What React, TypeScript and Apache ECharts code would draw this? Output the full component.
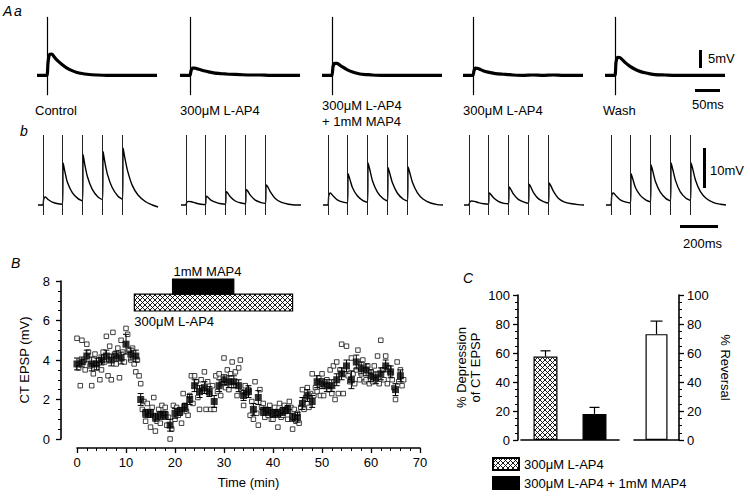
import React, { useEffect, useRef } from 'react';
import * as echarts from 'echarts';

const FONT = '"Liberation Sans", Arial, Helvetica, sans-serif';

// ---------- Panel A a : single EPSPs (time ms, mV) ----------
const tA = [0, 5, 10, 15, 20, 22, 25, 30, 35, 40, 50, 60, 70, 80, 90, 100, 120, 140, 160, 180, 200, 220, 240];
const epspControl = [0, 0, 0, 0, 0, 3.5, 5.8, 5.9, 5.0, 4.2, 3.0, 2.0, 1.3, 0.8, 0.5, 0.3, 0.1, 0, 0, 0, 0, 0, 0];
const epspLAP4 = [0, 0, 0, 0, 0, 1.2, 2.0, 2.0, 1.8, 1.6, 1.2, 0.9, 0.6, 0.5, 0.4, 0.3, 0.2, 0.1, 0.1, 0, 0, 0, 0];
const epspLAP4MAP4 = [0, 0, 0, 0, 0, 2.4, 3.3, 3.3, 2.9, 2.4, 1.6, 1.0, 0.6, 0.3, 0.2, 0.1, 0, 0, 0, 0, 0, 0, 0];
const epspLAP4b = [0, 0, 0, 0, 0, 1.3, 2.0, 1.9, 1.6, 1.3, 0.9, 0.6, 0.4, 0.3, 0.2, 0.1, 0, 0.1, 0, 0.1, 0, 0, 0];
const epspWash = [0, 0, 0, 0, 0, 3.6, 5.0, 4.9, 4.3, 3.6, 2.5, 1.7, 1.1, 0.7, 0.4, 0.2, 0.1, 0, 0, 0, 0, 0, 0];
const tracesA = [epspControl, epspLAP4, epspLAP4MAP4, epspLAP4b, epspWash];
const stimA = 20;
const conditionLabels = ['Control', '300μM L-AP4', '300μM L-AP4\n+ 1mM MAP4', '300μM L-AP4', 'Wash'];

// ---------- Panel b : 5-pulse trains (time ms, mV) ----------
const tB = [0, 25, 30, 38, 55, 75, 105, 129, 132, 140, 155, 180, 210, 234, 237, 245, 260, 285, 315,
  339, 342, 350, 365, 390, 420, 444, 447, 455, 470, 495, 525, 565, 600, 630];
const trainControl = [0, 0, 1.5, 2.0, 1.3, 0.7, 0.3, 0.2, 10.5, 8.6, 5.6, 3.1, 1.6, 1.0, 12.6, 10.3, 7.0, 3.9, 2.0,
  1.3, 13.3, 11.0, 7.6, 4.3, 2.2, 1.4, 14.2, 12.0, 8.6, 4.9, 2.5, 0.8, 0.0, -0.5];
const trainLAP4 = [0, 0, 0.6, 0.9, 0.8, 0.5, 0.2, 0.1, 2.2, 2.0, 1.3, 0.7, 0.3, 0.2, 3.3, 3.0, 2.0, 1.0, 0.5,
  0.3, 3.8, 3.5, 2.4, 1.2, 0.6, 0.4, 5.0, 4.6, 3.2, 1.6, 0.7, 0.2, 0, 0];
const trainLAP4MAP4 = [0, 0, 2.2, 3.0, 2.2, 1.3, 0.7, 0.5, 7.8, 6.6, 4.3, 2.3, 1.1, 0.7, 10.5, 9.0, 6.0, 3.3, 1.6,
  1.0, 9.3, 8.0, 5.5, 3.0, 1.5, 1.0, 9.5, 8.2, 5.6, 3.1, 1.5, 0.5, 0.1, 0];
const trainLAP4b = [0, 0, 0.7, 1.0, 0.9, 0.6, 0.3, 0.2, 3.0, 2.7, 1.8, 0.9, 0.4, 0.3, 4.5, 4.0, 2.7, 1.4, 0.7,
  0.4, 5.2, 4.6, 3.1, 1.6, 0.8, 0.5, 5.5, 4.9, 3.4, 1.7, 0.8, 0.3, 0.1, 0];
const trainWash = [0, 0, 2.3, 3.0, 2.2, 1.3, 0.7, 0.5, 7.8, 6.6, 4.3, 2.4, 1.2, 0.8, 10.0, 8.6, 5.8, 3.2, 1.6,
  1.0, 10.5, 9.0, 6.1, 3.3, 1.7, 1.1, 10.5, 9.1, 6.2, 3.4, 1.7, 0.6, 0.2, 0];
const tracesB = [trainControl, trainLAP4, trainLAP4MAP4, trainLAP4b, trainWash];
const stimB = [25, 129, 234, 339, 444];

// ---------- Panel B : time course (min, mV) ----------
const meanEPSP = [
  3.8, 3.9, 4.2, 3.8, 3.8, 4.0, 4.2, 4.0, 4.2, 4.1,
  4.8, 4.3, 4.2, 2.0, 1.3, 1.3, 1.1, 1.2, 1.2, 0.7,
  1.3, 1.4, 1.6, 2.0, 2.7, 2.4, 2.6, 2.4, 1.9, 2.7,
  3.0, 2.9, 2.9, 2.7, 2.2, 2.4, 1.5, 2.1, 1.4, 1.4,
  1.3, 1.3, 1.4, 1.5, 1.1, 1.1, 1.8, 2.2, 1.9, 2.9,
  2.8, 2.7, 2.7, 3.0, 3.3, 3.7, 3.0, 3.9, 3.6, 3.5,
  3.2, 3.1, 3.3, 3.7, 3.4, 2.5, 3.2];
const semEPSP = [
  0.3, 0.25, 0.3, 0.35, 0.3, 0.25, 0.3, 0.3, 0.25, 0.3,
  0.5, 0.3, 0.3, 0.3, 0.2, 0.2, 0.2, 0.2, 0.2, 0.3,
  0.25, 0.2, 0.2, 0.25, 0.3, 0.3, 0.3, 0.25, 0.3, 0.3,
  0.25, 0.3, 0.3, 0.3, 0.25, 0.3, 0.3, 0.35, 0.2, 0.2,
  0.2, 0.2, 0.2, 0.2, 0.2, 0.25, 0.3, 0.3, 0.3, 0.3,
  0.25, 0.3, 0.3, 0.3, 0.3, 0.3, 0.45, 0.35, 0.3, 0.3,
  0.3, 0.3, 0.3, 0.3, 0.3, 0.3, 0.3];
// individual sweeps, three per minute
const sweepEPSP = [
  5.1, 3.6, 2.7, 5.0, 3.9, 3.5, 4.8, 4.4, 3.7, 2.7, 3.3, 4.3, 3.6, 4.0, 3.0,
  3.5, 4.4, 3.9, 5.2, 3.2, 4.7, 3.0, 5.4, 4.3, 3.8, 4.6, 3.1, 5.0, 4.4, 3.9,
  5.6, 5.3, 4.5, 4.0, 4.6, 3.8, 3.4, 4.0, 3.2, 2.8, 1.5, 1.9, 0.9, 1.8, 1.2,
  0.6, 1.6, 2.1, 0.4, 0.9, 1.5, 0.8, 1.7, 1.3, 1.6, 0.7, 1.1, 0.0, 0.5, 1.7,
  1.0, 1.6, 1.2, 1.3, 0.8, 2.3, 1.7, 1.4, 1.2, 2.2, 3.2, 1.8, 3.2, 2.9, 2.1,
  1.5, 3.0, 2.5, 3.4, 1.5, 2.9, 2.3, 1.5, 2.7, 1.5, 3.2, 2.4, 3.3, 2.2, 2.8,
  4.1, 2.6, 3.5, 2.5, 3.3, 3.9, 2.7, 3.4, 2.2, 3.6, 4.0, 2.4, 1.7, 2.7, 2.3,
  2.5, 1.2, 1.9, 1.0, 2.9, 1.3, 0.7, 2.5, 1.6, 1.8, 1.1, 1.5, 1.2, 1.7, 1.0,
  1.0, 1.6, 1.3, 0.6, 1.8, 1.1, 1.2, 1.7, 1.4, 1.0, 1.9, 1.6, 0.5, 1.5, 0.9,
  1.3, 0.8, 1.6, 2.5, 1.5, 2.1, 2.6, 1.6, 2.3, 3.3, 2.2, 2.6, 2.4, 3.1, 2.2,
  3.3, 2.2, 2.9, 3.0, 2.5, 3.5, 2.3, 3.7, 2.0, 3.9, 2.3, 3.5, 4.8, 2.3, 3.3,
  4.7, 3.2, 2.9, 4.1, 3.3, 2.8, 3.5, 4.5, 3.0, 3.3, 4.0, 2.9, 3.0, 3.7, 2.8,
  3.4, 2.9, 3.7, 3.0, 4.2, 2.8, 5.0, 3.5, 3.0, 4.2, 2.8, 3.6, 3.3, 3.0, 2.6,
  2.0, 3.9, 2.9, 3.5, 2.7, 3.0];
const drugNames = ['300μM L-AP4', '1mM MAP4'];
const drugStart = [11.7, 19.5];
const drugEnd = [44, 32];

// ---------- Panel C : bar summaries (%) ----------
const depressionNames = ['300μM L-AP4', '300μM L-AP4 + 1mM MAP4'];
const depressionMean = [57.5, 18];
const depressionSem = [4, 4.5];
const reversalMean = [73];
const reversalSem = [9];

function makeHatch(): HTMLCanvasElement {
  const c = document.createElement('canvas');
  c.width = 5;
  c.height = 5;
  const ctx = c.getContext('2d')!;
  ctx.fillStyle = '#fff';
  ctx.fillRect(0, 0, 5, 5);
  ctx.strokeStyle = '#000';
  ctx.lineWidth = 0.9;
  ctx.beginPath();
  ctx.moveTo(0, 0); ctx.lineTo(5, 5);
  ctx.moveTo(5, 0); ctx.lineTo(0, 5);
  ctx.stroke();
  return c;
}

function buildOption() {
  const hatch: any = { image: makeHatch(), repeat: 'repeat' };
  const txt = (size = 13) => ({ color: '#000', fontSize: size, fontFamily: FONT });
  const aLefts = [37, 180, 322, 463, 605];
  const bLefts = [38, 181, 323, 464, 606];

  const grid: any[] = [
    ...aLefts.map((l) => ({ left: l, top: 14, width: 120, height: 83 })),
    ...bLefts.map((l) => ({ left: l, top: 133, width: 120, height: 84 })),
    { left: 77, top: 281, width: 343, height: 158 },
    { left: 521, top: 295, width: 98, height: 145 },
    { left: 634, top: 295, width: 45, height: 145 },
  ];

  const axisLine = { show: true, onZero: false, lineStyle: { color: '#000', width: 1.6 } };
  const tick = (len: number) => ({ show: true, length: len, lineStyle: { color: '#000', width: 1.3 } });
  const minor = (n: number) => ({ show: true, splitNumber: n, length: 3, lineStyle: { color: '#000', width: 1 } });

  const xAxis: any[] = [
    ...aLefts.map((_, i) => ({ gridIndex: i, type: 'value', min: 0, max: 240, show: false })),
    ...bLefts.map((_, i) => ({ gridIndex: 5 + i, type: 'value', min: 0, max: 630, show: false })),
    {
      gridIndex: 10, type: 'value', min: 0, max: 70, interval: 10, offset: 9,
      axisLine, axisTick: tick(5), minorTick: minor(5), splitLine: { show: false }, minorSplitLine: { show: false },
      axisLabel: { ...txt(13), margin: 8 },
      name: 'Time (min)', nameLocation: 'middle', nameGap: 28, nameTextStyle: txt(13),
    },
    { gridIndex: 11, type: 'category', data: depressionNames, axisLine, axisTick: { show: false }, axisLabel: { show: false } },
    { gridIndex: 12, type: 'category', data: ['% Reversal'], axisLine, axisTick: { show: false }, axisLabel: { show: false } },
  ];

  const yAxis: any[] = [
    ...aLefts.map((_, i) => ({ gridIndex: i, type: 'value', min: -6, max: 17, show: false })),
    ...bLefts.map((_, i) => ({ gridIndex: 5 + i, type: 'value', min: -3, max: 18, show: false })),
    {
      gridIndex: 10, type: 'value', min: 0, max: 8, interval: 2, offset: 16,
      axisLine, axisTick: tick(5), minorTick: minor(4), splitLine: { show: false },
      axisLabel: { ...txt(13), margin: 11 },
      name: 'CT EPSP (mV)', nameLocation: 'middle', nameGap: 30, nameTextStyle: txt(13),
    },
    {
      gridIndex: 11, type: 'value', min: 0, max: 100, interval: 20, offset: 3,
      axisLine, axisTick: tick(5), minorTick: minor(4), splitLine: { show: false },
      axisLabel: { ...txt(13), margin: 8 },
      name: '% Depression\nof CT EPSP', nameLocation: 'middle', nameGap: 36,
      nameTextStyle: { ...txt(13), lineHeight: 14 },
    },
    {
      gridIndex: 12, type: 'value', position: 'right', min: 0, max: 100, interval: 20,
      axisLine, axisTick: tick(5), minorTick: minor(4), splitLine: { show: false },
      axisLabel: { ...txt(13), margin: 8 },
      name: '% Reversal', nameLocation: 'middle', nameGap: 40, nameRotate: -90, nameTextStyle: txt(13),
    },
  ];

  const series: any[] = [];

  tracesA.forEach((tr, i) => {
    series.push({
      type: 'line', xAxisIndex: i, yAxisIndex: i, symbol: 'none', smooth: 0.2,
      data: tA.map((t, k) => [t, tr[k]]),
      lineStyle: { color: '#000', width: 3.2 },
      markLine: {
        silent: true, symbol: ['none', 'none'], label: { show: false },
        lineStyle: { color: '#000', width: 1.2, type: 'solid' },
        data: [[{ coord: [stimA, -5.5] }, { coord: [stimA, 16.2] }]],
      },
    });
  });

  tracesB.forEach((tr, i) => {
    series.push({
      type: 'line', xAxisIndex: 5 + i, yAxisIndex: 5 + i, symbol: 'none', smooth: 0.25,
      data: tB.map((t, k) => [t, tr[k]]),
      lineStyle: { color: '#000', width: 1.4 },
      markLine: {
        silent: true, symbol: ['none', 'none'], label: { show: false },
        lineStyle: { color: '#222', width: 1, type: 'solid' },
        data: stimB.map((s) => [{ coord: [s, -2.5] }, { coord: [s, 17.5] }]),
      },
    });
  });

  // Panel B
  series.push({
    type: 'scatter', xAxisIndex: 10, yAxisIndex: 10, symbol: 'rect', symbolSize: 4.5,
    data: sweepEPSP.map((v, i) => [Math.floor(i / 3) + (i % 3) / 3, v]),
    itemStyle: { color: '#fff', borderColor: '#111', borderWidth: 1 },
    z: 2,
  });
  series.push({
    type: 'custom', xAxisIndex: 10, yAxisIndex: 10, z: 3,
    data: meanEPSP.map((m, i) => [i, m, semEPSP[i]]),
    renderItem: (_p: any, api: any) => {
      const x = api.value(0), m = api.value(1), e = api.value(2);
      const top = api.coord([x, m + e]);
      const bot = api.coord([x, m - e]);
      const st = { stroke: '#000', lineWidth: 1 };
      return {
        type: 'group', children: [
          { type: 'line', shape: { x1: top[0], y1: top[1], x2: bot[0], y2: bot[1] }, style: st },
          { type: 'line', shape: { x1: top[0] - 3, y1: top[1], x2: top[0] + 3, y2: top[1] }, style: st },
          { type: 'line', shape: { x1: bot[0] - 3, y1: bot[1], x2: bot[0] + 3, y2: bot[1] }, style: st },
        ],
      };
    },
  });
  series.push({
    type: 'scatter', xAxisIndex: 10, yAxisIndex: 10, symbol: 'rect', symbolSize: 7,
    data: meanEPSP.map((m, i) => [i, m]),
    itemStyle: { color: '#000' }, z: 4,
  });
  const drugLevels = [[6.48, 7.34], [7.34, 8.1]];
  series.push({
    type: 'custom', xAxisIndex: 10, yAxisIndex: 10, clip: false, z: 5,
    data: drugStart.map((s, i) => [s, drugEnd[i], i]),
    renderItem: (p: any, api: any) => {
      const idx = p.dataIndex;
      const [lo, hi] = drugLevels[idx];
      const p1 = api.coord([api.value(0), hi]);
      const p2 = api.coord([api.value(1), lo]);
      const rect = {
        type: 'rect',
        shape: { x: p1[0], y: p1[1], width: p2[0] - p1[0], height: p2[1] - p1[1] },
        style: { fill: idx === 0 ? hatch : '#000', stroke: '#000', lineWidth: 1.2 },
      };
      const label = {
        type: 'text',
        x: idx === 0 ? p1[0] : p1[0] + 1,
        y: idx === 0 ? p2[1] + 4 : p1[1] - 1,
        style: {
          text: drugNames[idx], fill: '#000', fontSize: 13, fontFamily: FONT,
          align: 'left', verticalAlign: idx === 0 ? 'top' : 'bottom',
        },
      };
      return { type: 'group', children: [rect, label] };
    },
  });

  // Panel C
  series.push({
    type: 'bar', name: depressionNames[0], xAxisIndex: 11, yAxisIndex: 11,
    data: [depressionMean[0], '-'], barWidth: 24, barGap: '-100%',
    itemStyle: { color: hatch, borderColor: '#000', borderWidth: 1.2 },
  });
  series.push({
    type: 'bar', name: depressionNames[1], xAxisIndex: 11, yAxisIndex: 11,
    data: ['-', depressionMean[1]], barWidth: 24, barGap: '-100%',
    itemStyle: { color: '#000', borderColor: '#000', borderWidth: 1.2 },
  });
  const errRender = (cap: number) => (_p: any, api: any) => {
    const x = api.value(0), m = api.value(1), e = api.value(2);
    const top = api.coord([x, m + e]);
    const base = api.coord([x, m]);
    const st = { stroke: '#000', lineWidth: 1.2 };
    return {
      type: 'group', children: [
        { type: 'line', shape: { x1: top[0], y1: top[1], x2: base[0], y2: base[1] }, style: st },
        { type: 'line', shape: { x1: top[0] - cap, y1: top[1], x2: top[0] + cap, y2: top[1] }, style: st },
      ],
    };
  };
  series.push({
    type: 'custom', xAxisIndex: 11, yAxisIndex: 11, z: 5,
    data: depressionMean.map((m, i) => [i, m, depressionSem[i]]),
    renderItem: errRender(5),
  });
  series.push({
    type: 'bar', name: '% Reversal', xAxisIndex: 12, yAxisIndex: 12,
    data: reversalMean, barWidth: 22,
    itemStyle: { color: '#fff', borderColor: '#000', borderWidth: 1.2 },
  });
  series.push({
    type: 'custom', xAxisIndex: 12, yAxisIndex: 12, z: 5,
    data: reversalMean.map((m, i) => [i, m, reversalSem[i]]),
    renderItem: errRender(6),
  });

  const T = (text: string, x: number, y: number, extra: any = {}) => ({
    type: 'text', x, y,
    style: { text, fill: '#000', fontSize: 13, fontFamily: FONT, align: 'left', verticalAlign: 'middle', ...extra },
  });
  const R = (x: number, y: number, w: number, h: number) => ({
    type: 'rect', shape: { x, y, width: w, height: h }, style: { fill: '#000' },
  });

  const graphic: any[] = [
    T('A', 3, 11, { fontStyle: 'italic', fontSize: 14 }),
    T('a', 14, 11, { fontStyle: 'italic', fontSize: 14 }),
    T('b', 20, 131, { fontStyle: 'italic', fontSize: 14 }),
    T('B', 11, 263, { fontStyle: 'italic', fontSize: 14 }),
    T('C', 463, 278, { fontStyle: 'italic', fontSize: 14 }),
    T(conditionLabels[0], 35, 110),
    T(conditionLabels[1], 180, 110),
    T(conditionLabels[2], 322, 113, { lineHeight: 16 }),
    T(conditionLabels[3], 463, 110),
    T(conditionLabels[4], 603, 110),
    R(699, 50, 3, 18),
    T('5mV', 708, 58),
    R(695, 89, 25, 3),
    T('50ms', 692, 104),
    R(703, 148, 3, 40),
    T('10mV', 710, 170),
    R(680, 225, 38, 3),
    T('200ms', 683, 243),
  ];

  const legendBase = {
    orient: 'vertical', left: 492, itemWidth: 26, itemHeight: 12,
    selectedMode: false, icon: 'rect', padding: 0, textStyle: txt(13),
  };

  return {
    animation: false,
    backgroundColor: '#fff',
    textStyle: { fontFamily: FONT },
    grid, xAxis, yAxis, series, graphic,
    legend: [
      { ...legendBase, data: [depressionNames[0]], top: 457 },
      { ...legendBase, data: [depressionNames[1]], top: 476 },
    ],
  };
}

export default function App() {
  const ref = useRef<HTMLDivElement>(null);
  useEffect(() => {
    const chart = echarts.init(ref.current!, null, { renderer: 'svg' });
    chart.setOption(buildOption() as any);
    return () => chart.dispose();
  }, []);
  return (
    <div
      ref={ref}
      style={{ position: 'fixed', left: 0, top: 0, width: 750, height: 496, background: '#fff' }}
    />
  );
}
